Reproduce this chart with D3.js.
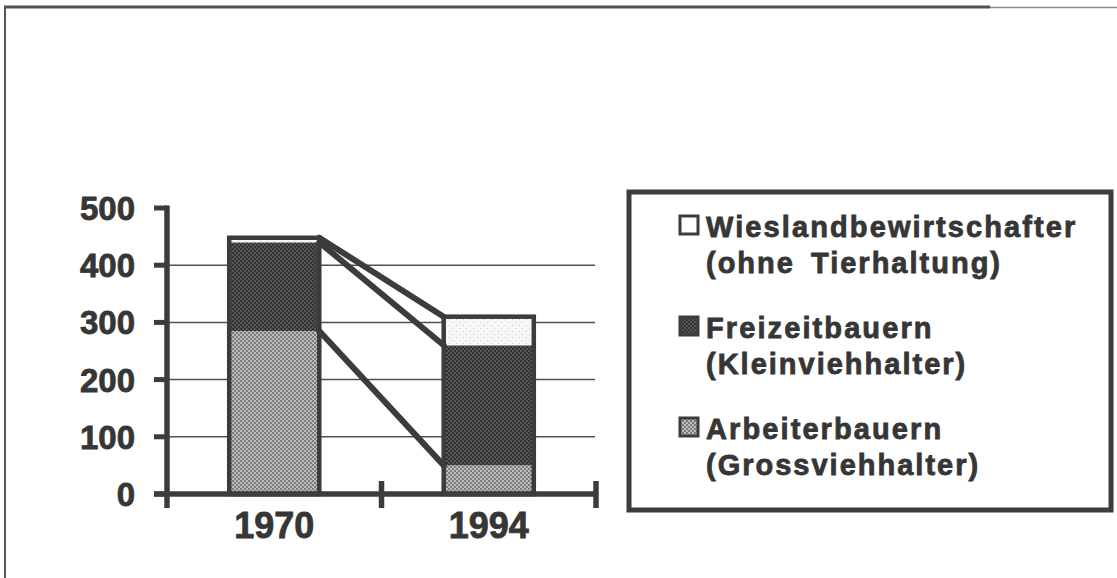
<!DOCTYPE html>
<html>
<head>
<meta charset="utf-8">
<script src="https://cdn.jsdelivr.net/npm/d3@7"></script>
<style>
  html, body { margin: 0; padding: 0; background: #fff; }
  svg text { font-family: "Liberation Sans", Arial, sans-serif; font-weight: bold; fill: #363636; stroke: #363636; stroke-width: 0.8px; }
</style>
</head>
<body>
<div id="container"></div>
<script>
// data
var years = ["1970", "1994"];
var arbeiter = [285, 50];   // Arbeiterbauern (Grossviehhalter)
var freizeit = [155, 210];  // Freizeitbauern (Kleinviehhalter)
var wiesland = [8, 50];     // Wieslandbewirtschafter (ohne Tierhaltung)
var yTicks = [0, 100, 200, 300, 400, 500];
var legendLines = [
	["Wieslandbewirtschafter", "(ohne Tierhaltung)"],
	["Freizeitbauern", "(Kleinviehhalter)"],
	["Arbeiterbauern", "(Grossviehhalter)"]
];

var w = 1117, h = 578;
var ink = "#3c3c3c";

var svg = d3.select("#container")
	.append("svg")
	.attr("width", w)
	.attr("height", h);

//fill textures
var defs = svg.append("defs");
function checker(id, a, b) {
	var p = defs.append("pattern").attr("id", id)
		.attr("patternUnits", "userSpaceOnUse")
		.attr("width", 4).attr("height", 4);
	p.append("rect").attr("width", 4).attr("height", 4).attr("fill", a);
	p.append("rect").attr("width", 2).attr("height", 2).attr("fill", b);
	p.append("rect").attr("x", 2).attr("y", 2).attr("width", 2).attr("height", 2).attr("fill", b);
}
checker("patArb", "#bdbdbd", "#7c7c7c");
checker("patFrz", "#555", "#333");
var pw = defs.append("pattern").attr("id", "patWies")
	.attr("patternUnits", "userSpaceOnUse")
	.attr("width", 7).attr("height", 6);
pw.append("rect").attr("width", 7).attr("height", 6).attr("fill", "#f7f7f7");
pw.append("rect").attr("x", 1).attr("y", 1).attr("width", 1).attr("height", 1).attr("fill", "#c8c8c8");
pw.append("rect").attr("x", 4).attr("y", 4).attr("width", 1).attr("height", 1).attr("fill", "#d0d0d0");

//outer frame (only top and left edge show)
svg.append("line").attr("x1", 4).attr("x2", 990).attr("y1", 7).attr("y2", 7)
	.attr("stroke", "#505050").attr("stroke-width", 3);
svg.append("line").attr("x1", 990).attr("x2", w).attr("y1", 7.5).attr("y2", 7.5)
	.attr("stroke", "#888").attr("stroke-width", 1.5);
svg.append("line").attr("x1", 5).attr("x2", 5).attr("y1", 6).attr("y2", h)
	.attr("stroke", "#555").attr("stroke-width", 2);

var x = d3.scaleBand().domain(years).range([167, 596]);
var y = d3.scaleLinear().domain([0, 500]).range([494, 208]);
var barW = x.bandwidth() * 0.42;

//gridlines
svg.selectAll(".grid")
	.data(yTicks.filter(function(d){ return d > 0 && d < 500; }))
	.enter().append("line")
	.attr("x1", 167).attr("x2", 595)
	.attr("y1", function(d){ return y(d); })
	.attr("y2", function(d){ return y(d); })
	.attr("stroke", "#505050").attr("stroke-width", 1.5);

//stacked bars
var rows = years.map(function(yr, i) {
	return { year: yr, arb: arbeiter[i], frz: freizeit[i], wies: wiesland[i] };
});
var keys = ["arb", "frz", "wies"];
var fills = { arb: "url(#patArb)", frz: "url(#patFrz)", wies: "url(#patWies)" };
var series = d3.stack().keys(keys)(rows);

function barX(d) { return x(d.data.year) + (x.bandwidth() - barW) / 2; }

svg.selectAll(".layer")
	.data(series)
	.enter().append("g")
	.attr("fill", function(s){ return fills[s.key]; })
	.selectAll("rect")
	.data(function(s){ return s; })
	.enter().append("rect")
	.attr("x", barX)
	.attr("width", barW)
	.attr("y", function(d){ return y(d[1]); })
	.attr("height", function(d){ return y(d[0]) - y(d[1]); });

//outline around each whole bar
var topLayer = series[series.length - 1];
svg.selectAll(".outline")
	.data(topLayer)
	.enter().append("rect")
	.attr("x", barX)
	.attr("width", barW)
	.attr("y", function(d){ return y(d[1]); })
	.attr("height", function(d){ return y(0) - y(d[1]); })
	.attr("fill", "none")
	.attr("stroke", ink).attr("stroke-width", 4.5);

//connector lines between the stacked tops
var x0 = x(years[0]) + (x.bandwidth() + barW) / 2;
var x1 = x(years[1]) + (x.bandwidth() - barW) / 2;
svg.selectAll(".conn")
	.data(series)
	.enter().append("line")
	.attr("x1", x0).attr("x2", x1)
	.attr("y1", function(s){ return y(s[0][1]); })
	.attr("y2", function(s){ return y(s[1][1]); })
	.attr("stroke", ink).attr("stroke-width", 6)
	.attr("stroke-linecap", "round");

//axes
svg.append("line").attr("x1", 167).attr("x2", 167).attr("y1", y(500) - 2.5).attr("y2", 508)
	.attr("stroke", ink).attr("stroke-width", 5.5);
svg.append("line").attr("x1", 154).attr("x2", 597).attr("y1", y(0)).attr("y2", y(0))
	.attr("stroke", ink).attr("stroke-width", 5.5);
svg.selectAll(".ytick")
	.data(yTicks)
	.enter().append("line")
	.attr("x1", 154).attr("x2", 167)
	.attr("y1", function(d){ return y(d); })
	.attr("y2", function(d){ return y(d); })
	.attr("stroke", ink).attr("stroke-width", 5);
var bounds = years.map(function(yr){ return x(yr) + x.bandwidth(); });
svg.selectAll(".xtick")
	.data(bounds)
	.enter().append("line")
	.attr("x1", function(d){ return d; })
	.attr("x2", function(d){ return d; })
	.attr("y1", 481).attr("y2", 508)
	.attr("stroke", ink).attr("stroke-width", 5.5);

svg.selectAll(".ylab")
	.data(yTicks)
	.enter().append("text")
	.attr("x", 135)
	.attr("y", function(d){ return y(d) + 12; })
	.attr("text-anchor", "end")
	.attr("font-size", "33px")
	.text(function(d){ return d; });

svg.selectAll(".xlab")
	.data(years)
	.enter().append("text")
	.attr("x", function(d){ return x(d) + x.bandwidth() / 2; })
	.attr("y", 538)
	.attr("text-anchor", "middle")
	.attr("font-size", "36px")
	.text(function(d){ return d; });

//legend
svg.append("rect")
	.attr("x", 629).attr("y", 192)
	.attr("width", 482).attr("height", 318)
	.attr("fill", "#fff")
	.attr("stroke", ink).attr("stroke-width", 5);

var legFills = ["#fff", "url(#patFrz)", "url(#patArb)"];
var leg = svg.selectAll(".leg")
	.data(legendLines)
	.enter().append("g")
	.attr("transform", function(d, i){ return "translate(0," + (i * 101) + ")"; });
leg.append("rect")
	.attr("x", 680).attr("y", 216)
	.attr("width", 18).attr("height", 18)
	.attr("fill", function(d, i){ return legFills[i]; })
	.attr("stroke", ink).attr("stroke-width", 3);
leg.append("text")
	.attr("x", 706).attr("y", 237)
	.attr("font-size", "29px")
	.attr("letter-spacing", "2.1px")
	.text(function(d){ return d[0]; });
leg.append("text")
	.attr("x", 706).attr("y", 273)
	.attr("font-size", "29px")
	.attr("letter-spacing", "2px")
	.attr("word-spacing", "6px")
	.text(function(d){ return d[1]; });
</script>
</body>
</html>
